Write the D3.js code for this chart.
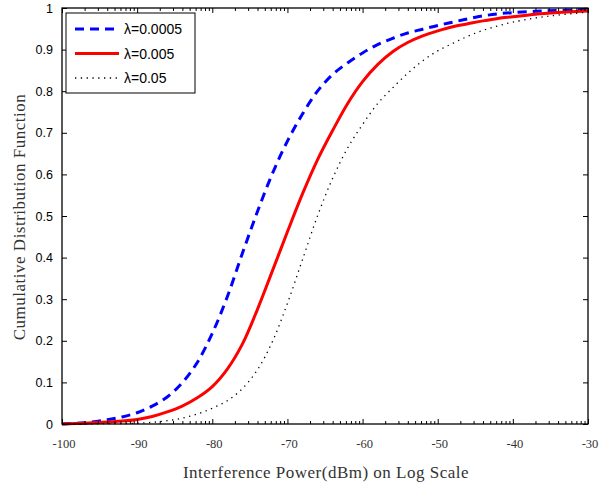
<!DOCTYPE html>
<html>
<head>
<meta charset="utf-8">
<script src="https://cdn.jsdelivr.net/npm/d3@7"></script>
<style>
  body { margin: 0; background: #fff; }
</style>
</head>
<body>
<div id="chart"></div>
<script>
// interference power (dBm) sample points
const powerDbm = [-100, -97, -94, -92, -90, -88, -86, -84, -82, -80, -78, -76, -74, -72, -70,
  -68, -66, -64, -62, -60, -58, -56, -54, -52, -50, -48, -46, -44, -42, -40, -37, -34, -30];

// CDF values
const cdfLow = [0, 0.003, 0.01, 0.017, 0.027, 0.043, 0.065, 0.099, 0.148, 0.218, 0.306, 0.41, 0.51, 0.602, 0.68,
  0.745, 0.8, 0.84, 0.868, 0.892, 0.912, 0.927, 0.94, 0.949, 0.958, 0.966, 0.974, 0.981, 0.986, 0.989, 0.992, 0.994, 0.997];
const cdfMid = [0, 0.002, 0.005, 0.007, 0.011, 0.018, 0.029, 0.043, 0.063, 0.09, 0.132, 0.192, 0.275, 0.368, 0.462,
  0.553, 0.635, 0.705, 0.77, 0.823, 0.864, 0.895, 0.917, 0.933, 0.945, 0.955, 0.962, 0.969, 0.975, 0.979, 0.985, 0.989, 0.993];
const cdfHigh = [0, 0, 0.001, 0.001, 0.002, 0.004, 0.008, 0.014, 0.024, 0.038, 0.056, 0.085, 0.13, 0.198, 0.29,
  0.395, 0.5, 0.59, 0.663, 0.72, 0.77, 0.808, 0.843, 0.873, 0.897, 0.915, 0.932, 0.946, 0.957, 0.966, 0.976, 0.983, 0.99];

const seriesNames = ["λ=0.0005", "λ=0.005", "λ=0.05"];
const xTicks = [-100, -90, -80, -70, -60, -50, -40, -30];
const yTicks = [0, 0.1, 0.2, 0.3, 0.4, 0.5, 0.6, 0.7, 0.8, 0.9, 1];

const W = 599, H = 486;
const plot = {left: 62, right: 588, top: 8, bottom: 424};

const svg = d3.select("#chart").append("svg")
  .attr("width", W)
  .attr("height", H);

const x = d3.scaleLinear().domain([-100, -30]).range([plot.left, plot.right]);
const y = d3.scaleLinear().domain([0, 1]).range([plot.bottom, plot.top]);

// minor ticks in log spacing inside each 10 dB step
const minorTicks = [];
xTicks.slice(0, -1).forEach(d => {
  for (let k = 2; k <= 9; k++) minorTicks.push(d + 10 * Math.log10(k));
});

const series = [
  {name: seriesNames[0], values: cdfLow, color: "#0000ff", width: 3, dash: "9,6"},
  {name: seriesNames[1], values: cdfMid, color: "#ff0000", width: 3, dash: null},
  {name: seriesNames[2], values: cdfHigh, color: "#000000", width: 1.3, dash: "1.3,4.5"}
];

const line = d3.line()
  .x((d, i) => x(powerDbm[i]))
  .y(d => y(d))
  .curve(d3.curveCatmullRom.alpha(0.5));

svg.append("clipPath").attr("id", "clip")
  .append("rect")
  .attr("x", plot.left).attr("y", plot.top - 2)
  .attr("width", plot.right - plot.left).attr("height", plot.bottom - plot.top + 4);

svg.append("g")
  .attr("clip-path", "url(#clip)")
  .selectAll("path")
  .data(series)
  .enter()
  .append("path")
    .attr("d", d => line(d.values))
    .attr("fill", "none")
    .attr("stroke", d => d.color)
    .attr("stroke-width", d => d.width)
    .attr("stroke-dasharray", d => d.dash);

// axes: ticks inward on all four sides
const bottomAxis = svg.append("g").attr("transform", "translate(0," + plot.bottom + ")");
bottomAxis.call(d3.axisBottom(x).tickValues(minorTicks).tickSize(-3).tickFormat(""));
bottomAxis.call(g => g.append("g").call(d3.axisBottom(x).tickValues(xTicks).tickSize(-5).tickFormat("")));

const topAxis = svg.append("g").attr("transform", "translate(0," + plot.top + ")");
topAxis.call(d3.axisTop(x).tickValues(minorTicks).tickSize(-3).tickFormat(""));
topAxis.call(g => g.append("g").call(d3.axisTop(x).tickValues(xTicks).tickSize(-5).tickFormat("")));

svg.append("g").attr("transform", "translate(" + plot.left + ",0)")
  .call(d3.axisLeft(y).tickValues(yTicks).tickSize(-5).tickFormat(""));
svg.append("g").attr("transform", "translate(" + plot.right + ",0)")
  .call(d3.axisRight(y).tickValues(yTicks).tickSize(-5).tickFormat(""));

svg.selectAll(".domain").remove();
svg.selectAll(".tick line").attr("stroke", "#000").attr("stroke-width", 1);

svg.append("rect")
  .attr("x", plot.left).attr("y", plot.top)
  .attr("width", plot.right - plot.left).attr("height", plot.bottom - plot.top)
  .attr("fill", "none").attr("stroke", "#000").attr("stroke-width", 1.3);

// tick labels
svg.append("g").selectAll("text")
  .data(xTicks)
  .enter()
  .append("text")
    .attr("x", d => x(d) + 2)
    .attr("y", 448)
    .attr("text-anchor", "middle")
    .attr("font-family", "Liberation Serif, serif")
    .attr("font-size", 12.5)
    .attr("fill", "#333")
    .text(d => d);

svg.append("g").selectAll("text")
  .data(yTicks)
  .enter()
  .append("text")
    .attr("x", 53)
    .attr("y", d => y(d) + 4.5)
    .attr("text-anchor", "end")
    .attr("font-family", "Liberation Sans, Arial, sans-serif")
    .attr("font-size", 12.5)
    .text(d => d);

// axis titles
svg.append("text")
  .attr("x", 326)
  .attr("y", 478)
  .attr("text-anchor", "middle")
  .attr("font-family", "Liberation Serif, serif")
  .attr("font-size", 17)
  .attr("letter-spacing", 0.5)
  .attr("fill", "#333")
  .text("Interference Power(dBm) on Log Scale");

svg.append("text")
  .attr("transform", "translate(25,217) rotate(-90)")
  .attr("text-anchor", "middle")
  .attr("font-family", "Liberation Serif, serif")
  .attr("font-size", 17)
  .attr("letter-spacing", 0.5)
  .attr("fill", "#333")
  .text("Cumulative Distribution Function");

// legend
const legend = svg.append("g");
legend.append("rect")
  .attr("x", 66).attr("y", 13)
  .attr("width", 129).attr("height", 80)
  .attr("fill", "#fff").attr("stroke", "#000").attr("stroke-width", 1);

const item = legend.selectAll("g.item")
  .data(series)
  .enter()
  .append("g")
    .attr("class", "item")
    .attr("transform", (d, i) => "translate(0," + (29 + i * 24.5) + ")");

item.append("line")
  .attr("x1", 75).attr("x2", 119)
  .attr("stroke", d => d.color)
  .attr("stroke-width", d => d.width)
  .attr("stroke-dasharray", d => d.dash);

item.append("text")
  .attr("x", 124)
  .attr("y", 5)
  .attr("font-family", "Liberation Sans, Arial, sans-serif")
  .attr("font-size", 14)
  .text(d => d.name);
</script>
</body>
</html>
